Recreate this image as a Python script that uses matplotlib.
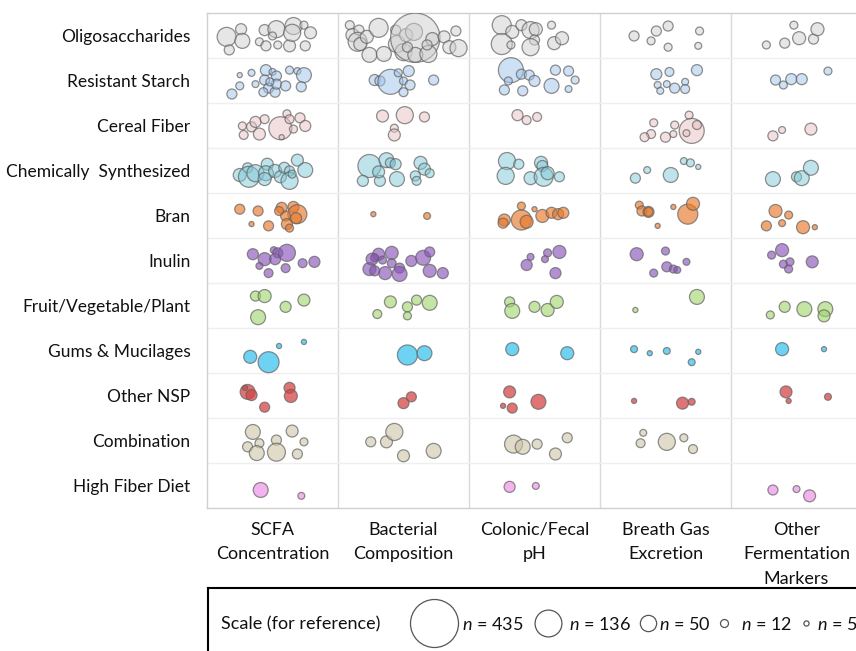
import matplotlib
matplotlib.use("Agg")
import matplotlib.pyplot as plt
from matplotlib.colors import to_rgba

plt.rcParams['font.family'] = ['Lato', 'DejaVu Sans']
plt.rcParams['mathtext.fontset'] = 'custom'
plt.rcParams['mathtext.it'] = 'Lato:italic'
plt.rcParams['mathtext.rm'] = 'Lato'

measures = ["SCFA\nConcentration", "Bacterial\nComposition", "Colonic/Fecal\npH",
            "Breath Gas\nExcretion", "Other\nFermentation\nMarkers"]

fiber_types = ["Oligosaccharides", "Resistant Starch", "Cereal Fiber",
               "Chemically  Synthesized", "Bran", "Inulin", "Fruit/Vegetable/Plant",
               "Gums & Mucilages", "Other NSP", "Combination", "High Fiber Diet"]

fiber_colors = ["#cfcfcf", "#9fc2eb", "#e8c0c0", "#80c8d6", "#e8792a", "#8a55bb",
                "#9fd46a", "#3ec3ef", "#d64545", "#cdc6a6", "#ec8ae6"]
fiber_alpha = [0.5, 0.5, 0.5, 0.5, 0.65, 0.65, 0.6, 0.75, 0.75, 0.6, 0.65]

# each study: (measure index, x position within cell %, y position within cell %, sample size n)
oligosaccharides = [
    (0, 15, 53, 68), (0, 26, 36, 23), (0, 27, 62, 42), (0, 17, 82, 19), (0, 44, 38, 23),
    (0, 53, 36, 55), (0, 50, 51, 12), (0, 40, 64, 12), (0, 45, 73, 19), (0, 54, 71, 12),
    (0, 63, 73, 27), (0, 66, 29, 55), (0, 65, 44, 55), (0, 74, 27, 12), (0, 79, 44, 27),
    (0, 75, 73, 19),
    (1, 9, 27, 15), (1, 11, 49, 32), (1, 16, 38, 19), (1, 15, 64, 68), (1, 17, 69, 32),
    (1, 22, 53, 32), (1, 31, 33, 68), (1, 24, 93, 42), (1, 35, 91, 42), (1, 44, 38, 19),
    (1, 45, 69, 55), (1, 50, 87, 55), (1, 52, 49, 32), (1, 58, 42, 55), (1, 59, 55, 460),
    (1, 59, 93, 42), (1, 69, 91, 55), (1, 72, 58, 32), (1, 81, 53, 27), (1, 85, 76, 32),
    (1, 90, 40, 19), (1, 92, 78, 55), (1, 53, 76, 19), (1, 68, 71, 19),
    (2, 25, 27, 68), (2, 33, 42, 32), (2, 40, 27, 23), (2, 47, 38, 55), (2, 51, 36, 32),
    (2, 50, 60, 19), (2, 25, 69, 83), (2, 32, 71, 12), (2, 47, 76, 55), (2, 63, 27, 12),
    (2, 65, 67, 32), (2, 71, 56, 32),
    (3, 26, 51, 19), (3, 39, 62, 12), (3, 43, 40, 19), (3, 52, 29, 19), (3, 52, 76, 12),
    (3, 76, 40, 12), (3, 75, 73, 9),
    (4, 27, 71, 12), (4, 41, 67, 19), (4, 48, 27, 12), (4, 52, 56, 32), (4, 63, 58, 19),
    (4, 66, 36, 32),
]
resistant_starch = [
    (0, 25, 38, 5), (0, 34, 33, 9), (0, 45, 27, 23), (0, 50, 31, 9), (0, 53, 40, 19),
    (0, 44, 49, 19), (0, 37, 58, 9), (0, 25, 62, 12), (0, 19, 80, 19), (0, 47, 67, 19),
    (0, 43, 76, 15), (0, 52, 76, 19), (0, 53, 58, 19), (0, 60, 62, 19), (0, 63, 27, 12),
    (0, 69, 29, 9), (0, 74, 38, 42), (0, 72, 64, 19), (0, 48, 53, 12),
    (1, 28, 49, 23), (1, 32, 51, 19), (1, 40, 53, 118), (1, 46, 33, 12), (1, 54, 29, 23),
    (1, 50, 51, 12), (1, 55, 60, 19), (1, 50, 76, 15), (1, 73, 49, 19),
    (2, 32, 27, 118), (2, 40, 36, 19), (2, 46, 38, 19), (2, 50, 51, 23), (2, 30, 51, 12),
    (2, 27, 71, 19), (2, 41, 73, 19), (2, 63, 62, 42), (2, 66, 27, 19), (2, 76, 29, 19),
    (2, 81, 49, 12), (2, 76, 69, 9),
    (3, 43, 36, 23), (3, 53, 31, 15), (3, 74, 27, 23), (3, 44, 60, 9), (3, 51, 58, 9),
    (3, 46, 73, 9), (3, 57, 67, 19), (3, 65, 53, 9), (3, 65, 69, 15),
    (4, 34, 49, 19), (4, 40, 60, 12), (4, 46, 47, 23), (4, 54, 47, 23), (4, 74, 29, 12),
]
cereal_fiber = [
    (0, 27, 51, 12), (0, 28, 71, 15), (0, 34, 53, 19), (0, 37, 42, 23), (0, 44, 36, 15),
    (0, 40, 69, 27), (0, 56, 56, 100), (0, 57, 76, 5), (0, 61, 24, 12), (0, 63, 36, 15),
    (0, 71, 33, 19), (0, 66, 58, 12), (0, 75, 51, 23),
    (1, 34, 29, 27), (1, 51, 27, 55), (1, 66, 31, 19), (1, 43, 56, 12), (1, 43, 71, 27),
    (2, 37, 27, 23), (2, 44, 38, 15), (2, 52, 31, 15),
    (3, 41, 44, 12), (3, 39, 69, 15), (3, 34, 76, 15), (3, 50, 76, 19), (3, 56, 69, 9),
    (3, 57, 49, 12), (3, 68, 27, 12), (3, 70, 62, 118), (3, 74, 49, 15), (3, 66, 67, 9),
    (4, 32, 73, 19), (4, 39, 60, 9), (4, 61, 58, 27),
]
chemically_synthesized = [
    (0, 25, 60, 32), (0, 31, 44, 19), (0, 32, 64, 83), (0, 37, 56, 55), (0, 46, 36, 27),
    (0, 45, 56, 42), (0, 44, 69, 32), (0, 52, 51, 32), (0, 56, 64, 27), (0, 59, 44, 23),
    (0, 63, 51, 19), (0, 63, 73, 55), (0, 65, 58, 12), (0, 69, 27, 27), (0, 75, 49, 42),
    (1, 24, 40, 100), (1, 19, 73, 23), (1, 32, 73, 23), (1, 31, 53, 27), (1, 37, 27, 42),
    (1, 40, 33, 19), (1, 44, 36, 23), (1, 45, 69, 42), (1, 63, 33, 32), (1, 66, 47, 27),
    (1, 70, 56, 15), (1, 59, 62, 19), (1, 60, 73, 15),
    (2, 29, 29, 55), (2, 38, 36, 19), (2, 28, 62, 55), (2, 47, 67, 32), (2, 55, 33, 32),
    (2, 56, 40, 23), (2, 57, 64, 68), (2, 60, 56, 32), (2, 69, 64, 19),
    (3, 27, 67, 19), (3, 36, 49, 9), (3, 54, 60, 42), (3, 64, 29, 9), (3, 69, 33, 12),
    (3, 75, 42, 5),
    (4, 32, 69, 42), (4, 50, 64, 19), (4, 54, 67, 42), (4, 61, 44, 42),
]
bran = [
    (0, 25, 36, 19), (0, 39, 40, 19), (0, 34, 69, 5), (0, 47, 73, 19), (0, 57, 33, 23),
    (0, 66, 31, 23), (0, 69, 47, 68), (0, 60, 51, 19), (0, 61, 69, 23), (0, 68, 56, 23),
    (0, 63, 78, 12), (0, 55, 40, 15),
    (1, 27, 47, 5), (1, 68, 51, 9),
    (2, 40, 29, 12), (2, 27, 60, 27), (2, 26, 67, 19), (2, 40, 60, 76), (2, 44, 64, 32),
    (2, 50, 36, 5), (2, 56, 51, 32), (2, 63, 44, 23), (2, 68, 47, 23), (2, 72, 44, 23),
    (3, 30, 27, 12), (3, 32, 40, 19), (3, 37, 42, 23), (3, 37, 42, 15), (3, 44, 73, 5),
    (3, 56, 31, 5), (3, 67, 47, 76), (3, 71, 24, 32),
    (4, 34, 40, 32), (4, 44, 49, 12), (4, 39, 67, 9), (4, 27, 73, 19), (4, 55, 76, 32),
    (4, 64, 76, 5),
]
inulin = [
    (0, 35, 36, 23), (0, 44, 47, 32), (0, 40, 62, 9), (0, 51, 27, 9), (0, 54, 33, 19),
    (0, 52, 47, 23), (0, 61, 33, 55), (0, 47, 78, 15), (0, 60, 67, 15), (0, 73, 56, 15),
    (0, 82, 53, 23),
    (1, 24, 69, 32), (1, 26, 47, 27), (1, 31, 36, 27), (1, 28, 44, 12), (1, 34, 49, 12),
    (1, 36, 78, 32), (1, 41, 33, 32), (1, 41, 56, 15), (1, 47, 67, 19), (1, 47, 80, 42),
    (1, 28, 73, 19), (1, 56, 51, 23), (1, 65, 44, 42), (1, 70, 31, 19), (1, 70, 73, 32),
    (1, 80, 78, 23),
    (2, 47, 42, 9), (2, 44, 60, 23), (2, 60, 33, 12), (2, 58, 47, 9), (2, 69, 31, 32),
    (2, 66, 78, 23),
    (3, 28, 36, 32), (3, 50, 29, 12), (3, 41, 78, 12), (3, 51, 64, 19), (3, 56, 69, 12),
    (3, 59, 71, 9), (3, 66, 53, 9),
    (4, 31, 38, 12), (4, 39, 27, 32), (4, 40, 58, 12), (4, 45, 53, 12), (4, 44, 69, 12),
    (4, 62, 53, 27),
]
fruit_vegetable_plant = [
    (0, 37, 29, 19), (0, 44, 29, 32), (0, 39, 76, 42), (0, 60, 53, 23), (0, 74, 38, 27),
    (1, 30, 69, 15), (1, 40, 42, 27), (1, 53, 53, 19), (1, 53, 73, 12), (1, 60, 38, 19),
    (1, 70, 44, 42),
    (2, 31, 42, 19), (2, 33, 62, 42), (2, 50, 53, 23), (2, 60, 60, 32), (2, 67, 42, 32),
    (3, 27, 60, 5), (3, 74, 31, 42),
    (4, 30, 71, 12), (4, 41, 53, 23), (4, 56, 58, 42), (4, 72, 58, 42), (4, 71, 73, 27),
]
gums_mucilages = [
    (0, 33, 64, 32), (0, 47, 76, 83), (0, 55, 40, 5), (0, 74, 31, 5),
    (1, 53, 60, 76), (1, 66, 56, 42),
    (2, 33, 47, 32), (2, 75, 56, 32),
    (3, 26, 47, 9), (3, 38, 56, 5), (3, 51, 51, 9), (3, 75, 53, 5), (3, 70, 76, 9),
    (4, 39, 47, 32), (4, 71, 47, 5),
]
other_nsp = [
    (0, 31, 42, 42), (0, 34, 49, 23), (0, 29, 33, 5), (0, 63, 33, 23), (0, 64, 51, 32),
    (0, 44, 76, 19),
    (1, 50, 67, 23), (1, 56, 53, 19),
    (2, 31, 42, 27), (2, 26, 73, 5), (2, 33, 78, 19), (2, 53, 64, 42),
    (3, 26, 62, 5), (3, 63, 67, 27), (3, 70, 64, 9),
    (4, 42, 42, 27), (4, 44, 62, 5), (4, 74, 53, 9),
]
combination = [
    (0, 35, 31, 42), (0, 31, 64, 19), (0, 40, 56, 15), (0, 38, 78, 42), (0, 53, 49, 19),
    (0, 53, 76, 61), (0, 65, 29, 27), (0, 74, 53, 12), (0, 69, 80, 19),
    (1, 25, 53, 19), (1, 37, 53, 27), (1, 43, 31, 55), (1, 50, 84, 27), (1, 73, 73, 42),
    (2, 34, 58, 61), (2, 41, 64, 42), (2, 52, 58, 19), (2, 66, 80, 27), (2, 75, 44, 19),
    (3, 33, 33, 9), (3, 31, 56, 15), (3, 51, 53, 55), (3, 64, 44, 12), (3, 71, 69, 15),
]
high_fiber_diet = [
    (0, 41, 60, 42), (0, 72, 73, 9),
    (2, 31, 53, 23), (2, 51, 51, 9),
    (4, 32, 60, 19), (4, 50, 58, 9), (4, 60, 73, 27),
]

studies = [oligosaccharides, resistant_starch, cereal_fiber, chemically_synthesized, bran,
           inulin, fruit_vegetable_plant, gums_mucilages, other_nsp, combination,
           high_fiber_diet]

scale_n = [435, 136, 50, 12, 5]

# ---------------------------------------------------------------------------
W, H = 856, 651
fig = plt.figure(figsize=(W / 100, H / 100), dpi=100)

# marker area: diameter 48 px for n = 435
REF_D_PT = 48 * 0.72
def area(n):
    return REF_D_PT ** 2 * n / 435.0

col_w_px = 131
left_px, top_px, bot_px = 207, 13, 508
ax = fig.add_axes([left_px / W, 1 - bot_px / H, 5 * col_w_px / W, (bot_px - top_px) / H])
ax.set_xlim(0, len(measures))
ax.set_ylim(len(fiber_types), 0)

for i in range(1, len(measures)):
    ax.axvline(i, color="#d9d9d9", lw=1.0, zorder=0)
for j in range(1, len(fiber_types)):
    ax.axhline(j, color="#efefef", lw=1.0, zorder=0)

edge = (0.38, 0.38, 0.38, 0.7)
for r, rows in enumerate(studies):
    xs = [c + xp / 100.0 for c, xp, yp, n in rows]
    ys = [r + yp / 100.0 for c, xp, yp, n in rows]
    ss = [area(n) for c, xp, yp, n in rows]
    fc = to_rgba(fiber_colors[r], fiber_alpha[r])
    ax.scatter(xs, ys, s=ss, facecolors=[fc], edgecolors=[edge], linewidths=0.9, zorder=3)

for side in ["left", "top", "bottom"]:
    ax.spines[side].set_color("#d0d0d0")
    ax.spines[side].set_linewidth(1.0)
ax.spines["right"].set_visible(False)

ax.set_yticks([j + 0.5 for j in range(len(fiber_types))])
ax.set_yticklabels(fiber_types, fontsize=12.5, color="#111111")
ax.set_xticks([i + 0.5 for i in range(len(measures))])
ax.set_xticklabels(measures, fontsize=13, color="#111111", linespacing=1.65, va="top")
ax.tick_params(axis="y", length=0, pad=12)
ax.tick_params(axis="x", length=0, pad=10)

# ---- scale legend box ----
box_top_px = 588
lax = fig.add_axes([208 / W, -0.05, (W - 200) / W, (H - box_top_px) / H + 0.05])
lax.set_xlim(208, 208 + (W - 200))
lax.set_ylim(H + 0.05 * H, box_top_px)
lax.set_xticks([])
lax.set_yticks([])
for s in lax.spines.values():
    s.set_color("black")
    s.set_linewidth(1.5)
lax.patch.set_alpha(0)
cy = 624
lax.text(221, cy, "Scale (for reference)", fontsize=13, va="center", ha="left", color="#111111")
circle_x = [434, 548, 648, 724, 806]
label_x = [462, 569, 659, 741, 817]
for x, tx, n in zip(circle_x, label_x, scale_n):
    lax.scatter([x], [cy - 1], s=area(n), facecolors="white", edgecolors="#555555",
                linewidths=0.9, zorder=3, clip_on=False)
    lax.text(tx, cy, "$n$ = %d" % n, fontsize=13, va="center", ha="left",
             color="#111111")

fig.savefig("out.png", dpi=100)
